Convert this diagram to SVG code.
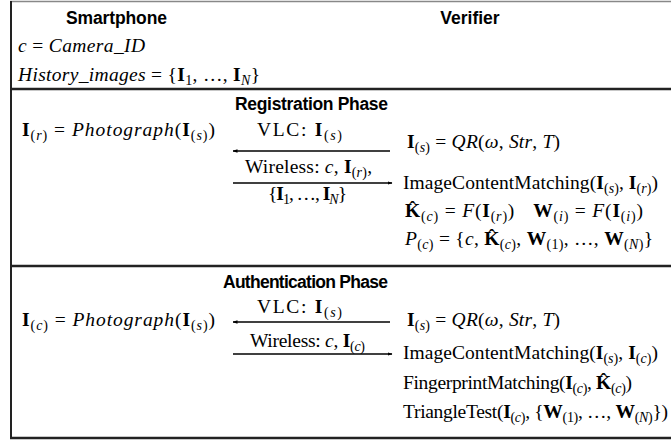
<svg xmlns="http://www.w3.org/2000/svg" width="671" height="442" viewBox="0 0 671 442">
<defs>
<style>
.hd{font-family:"Liberation Sans",Arial,sans-serif;font-weight:bold;font-size:17.5px;fill:#000}
.m{font-family:"Liberation Serif","Times New Roman",serif;font-size:19.5px;fill:#000}
.i{font-style:italic}
.b{font-weight:bold}
.s{font-size:14px}
.rule{stroke:#222;stroke-width:2.5;fill:none}
.conn{stroke:#000;stroke-width:1.3;fill:none}
</style>
<marker id="ah" viewBox="0 0 10 10" refX="9" refY="5" markerWidth="5" markerHeight="5" orient="auto" markerUnits="userSpaceOnUse">
<path d="M0,1.5 L10,5 L0,8.5 z" fill="#000"/>
</marker>
</defs>
<rect width="671" height="442" fill="#fff"/>
<g id="frame">
<line x1="10" y1="1.5" x2="671" y2="1.5" stroke="#888" stroke-width="1.5"/>
<line x1="11" y1="1" x2="11" y2="439" stroke="#222" stroke-width="2"/>
<line class="rule" x1="10" y1="89" x2="671" y2="89"/>
<line class="rule" x1="10" y1="266" x2="671" y2="266"/>
<line class="rule" x1="10" y1="438" x2="671" y2="438"/>
</g>
<g id="smartphone-header">
<text class="hd" x="116.5" y="24" text-anchor="middle" textLength="101">Smartphone</text>
<text class="m" x="18" y="52" textLength="127"><tspan class="i">c</tspan> = <tspan class="i">Camera_ID</tspan></text>
<text class="m" x="18" y="81" textLength="242"><tspan class="i">History_images</tspan> = {<tspan class="b">I</tspan><tspan class="s" dy="4">1</tspan><tspan dy="-4">, …, </tspan><tspan class="b">I</tspan><tspan class="s i" dy="4">N</tspan><tspan dy="-4">}</tspan></text>
</g>
<g id="verifier-header">
<text class="hd" x="470" y="24" text-anchor="middle">Verifier</text>
</g>
<g id="registration-phase">
<text class="hd" x="311.5" y="110" text-anchor="middle" textLength="153">Registration Phase</text>
</g>
<g id="reg-smartphone">
<text class="m" x="22" y="136" textLength="193"><tspan class="b">I</tspan><tspan class="s" dy="4">(<tspan class="i">r</tspan>)</tspan><tspan dy="-4"> = </tspan><tspan class="i">Photograph</tspan>(<tspan class="b">I</tspan><tspan class="s" dy="4">(<tspan class="i">s</tspan>)</tspan><tspan dy="-4">)</tspan></text>
</g>
<g id="reg-verifier">
<text class="m" x="407" y="148" textLength="153"><tspan class="b">I</tspan><tspan class="s" dy="4">(<tspan class="i">s</tspan>)</tspan><tspan dy="-4"> = </tspan><tspan class="i">QR</tspan>(<tspan class="i">ω</tspan>, <tspan class="i">Str</tspan>, <tspan class="i">T</tspan>)</text>
<text class="m" x="403" y="189" textLength="255">ImageContentMatching(<tspan class="b">I</tspan><tspan class="s" dy="4">(<tspan class="i">s</tspan>)</tspan><tspan dy="-4">, </tspan><tspan class="b">I</tspan><tspan class="s" dy="4">(<tspan class="i">r</tspan>)</tspan><tspan dy="-4">)</tspan></text>
<text class="m" x="405" y="217" textLength="238"><tspan class="b">K̂</tspan><tspan class="s" dy="4">(<tspan class="i">c</tspan>)</tspan><tspan dy="-4"> = </tspan><tspan class="i">F</tspan>(<tspan class="b">I</tspan><tspan class="s" dy="4">(<tspan class="i">r</tspan>)</tspan><tspan dy="-4">)</tspan><tspan class="b" dx="18">W</tspan><tspan class="s" dy="4">(<tspan class="i">i</tspan>)</tspan><tspan dy="-4"> = </tspan><tspan class="i">F</tspan>(<tspan class="b">I</tspan><tspan class="s" dy="4">(<tspan class="i">i</tspan>)</tspan><tspan dy="-4">)</tspan></text>
<text class="m" x="405" y="245" textLength="248"><tspan class="i">P</tspan><tspan class="s" dy="4">(<tspan class="i">c</tspan>)</tspan><tspan dy="-4"> = {</tspan><tspan class="i">c</tspan>, <tspan class="b">K̂</tspan><tspan class="s" dy="4">(<tspan class="i">c</tspan>)</tspan><tspan dy="-4">, </tspan><tspan class="b">W</tspan><tspan class="s" dy="4">(1)</tspan><tspan dy="-4">, …, </tspan><tspan class="b">W</tspan><tspan class="s" dy="4">(<tspan class="i">N</tspan>)</tspan><tspan dy="-4">}</tspan></text>
</g>
<g id="authentication-phase">
<text class="hd" x="305.5" y="288" text-anchor="middle" textLength="165">Authentication Phase</text>
</g>
<g id="auth-smartphone">
<text class="m" x="22" y="326" textLength="193"><tspan class="b">I</tspan><tspan class="s" dy="4">(<tspan class="i">c</tspan>)</tspan><tspan dy="-4"> = </tspan><tspan class="i">Photograph</tspan>(<tspan class="b">I</tspan><tspan class="s" dy="4">(<tspan class="i">s</tspan>)</tspan><tspan dy="-4">)</tspan></text>
</g>
<g id="auth-verifier">
<text class="m" x="407" y="326" textLength="153"><tspan class="b">I</tspan><tspan class="s" dy="4">(<tspan class="i">s</tspan>)</tspan><tspan dy="-4"> = </tspan><tspan class="i">QR</tspan>(<tspan class="i">ω</tspan>, <tspan class="i">Str</tspan>, <tspan class="i">T</tspan>)</text>
<text class="m" x="403" y="359" textLength="255">ImageContentMatching(<tspan class="b">I</tspan><tspan class="s" dy="4">(<tspan class="i">s</tspan>)</tspan><tspan dy="-4">, </tspan><tspan class="b">I</tspan><tspan class="s" dy="4">(<tspan class="i">c</tspan>)</tspan><tspan dy="-4">)</tspan></text>
<text class="m" x="403" y="389" textLength="229">FingerprintMatching(<tspan class="b">I</tspan><tspan class="s" dy="4">(<tspan class="i">c</tspan>)</tspan><tspan dy="-4">, </tspan><tspan class="b">K̂</tspan><tspan class="s" dy="4">(<tspan class="i">c</tspan>)</tspan><tspan dy="-4">)</tspan></text>
<text class="m" x="403" y="418" textLength="265">TriangleTest(<tspan class="b">I</tspan><tspan class="s" dy="4">(<tspan class="i">c</tspan>)</tspan><tspan dy="-4">, {</tspan><tspan class="b">W</tspan><tspan class="s" dy="4">(1)</tspan><tspan dy="-4">, …, </tspan><tspan class="b">W</tspan><tspan class="s" dy="4">(<tspan class="i">N</tspan>)</tspan><tspan dy="-4">})</tspan></text>
</g>
<g id="connectors">
<line class="conn" x1="390" y1="151" x2="233" y2="151" marker-end="url(#ah)"/>
<text class="m" x="299.5" y="136" text-anchor="middle" textLength="85">VLC: <tspan class="b">I</tspan><tspan class="s" dy="4">(<tspan class="i">s</tspan>)</tspan></text>
<line class="conn" x1="233" y1="183" x2="392" y2="183" marker-end="url(#ah)"/>
<text class="m" x="308.5" y="173" text-anchor="middle" textLength="127">Wireless: <tspan class="i">c</tspan>, <tspan class="b">I</tspan><tspan class="s" dy="4">(<tspan class="i">r</tspan>)</tspan><tspan dy="-4">,</tspan></text>
<text class="m" x="307.5" y="200" text-anchor="middle" textLength="79">{<tspan class="b">I</tspan><tspan class="s" dy="4">1</tspan><tspan dy="-4">, …, </tspan><tspan class="b">I</tspan><tspan class="s i" dy="4">N</tspan><tspan dy="-4">}</tspan></text>
<line class="conn" x1="390" y1="322" x2="233" y2="322" marker-end="url(#ah)"/>
<text class="m" x="299.5" y="313" text-anchor="middle" textLength="85">VLC: <tspan class="b">I</tspan><tspan class="s" dy="4">(<tspan class="i">s</tspan>)</tspan></text>
<line class="conn" x1="233" y1="354" x2="392" y2="354" marker-end="url(#ah)"/>
<text class="m" x="307.5" y="347" text-anchor="middle" textLength="115">Wireless: <tspan class="i">c</tspan>, <tspan class="b">I</tspan><tspan class="s" dy="4">(<tspan class="i">c</tspan>)</tspan></text>
</g>
</svg>
